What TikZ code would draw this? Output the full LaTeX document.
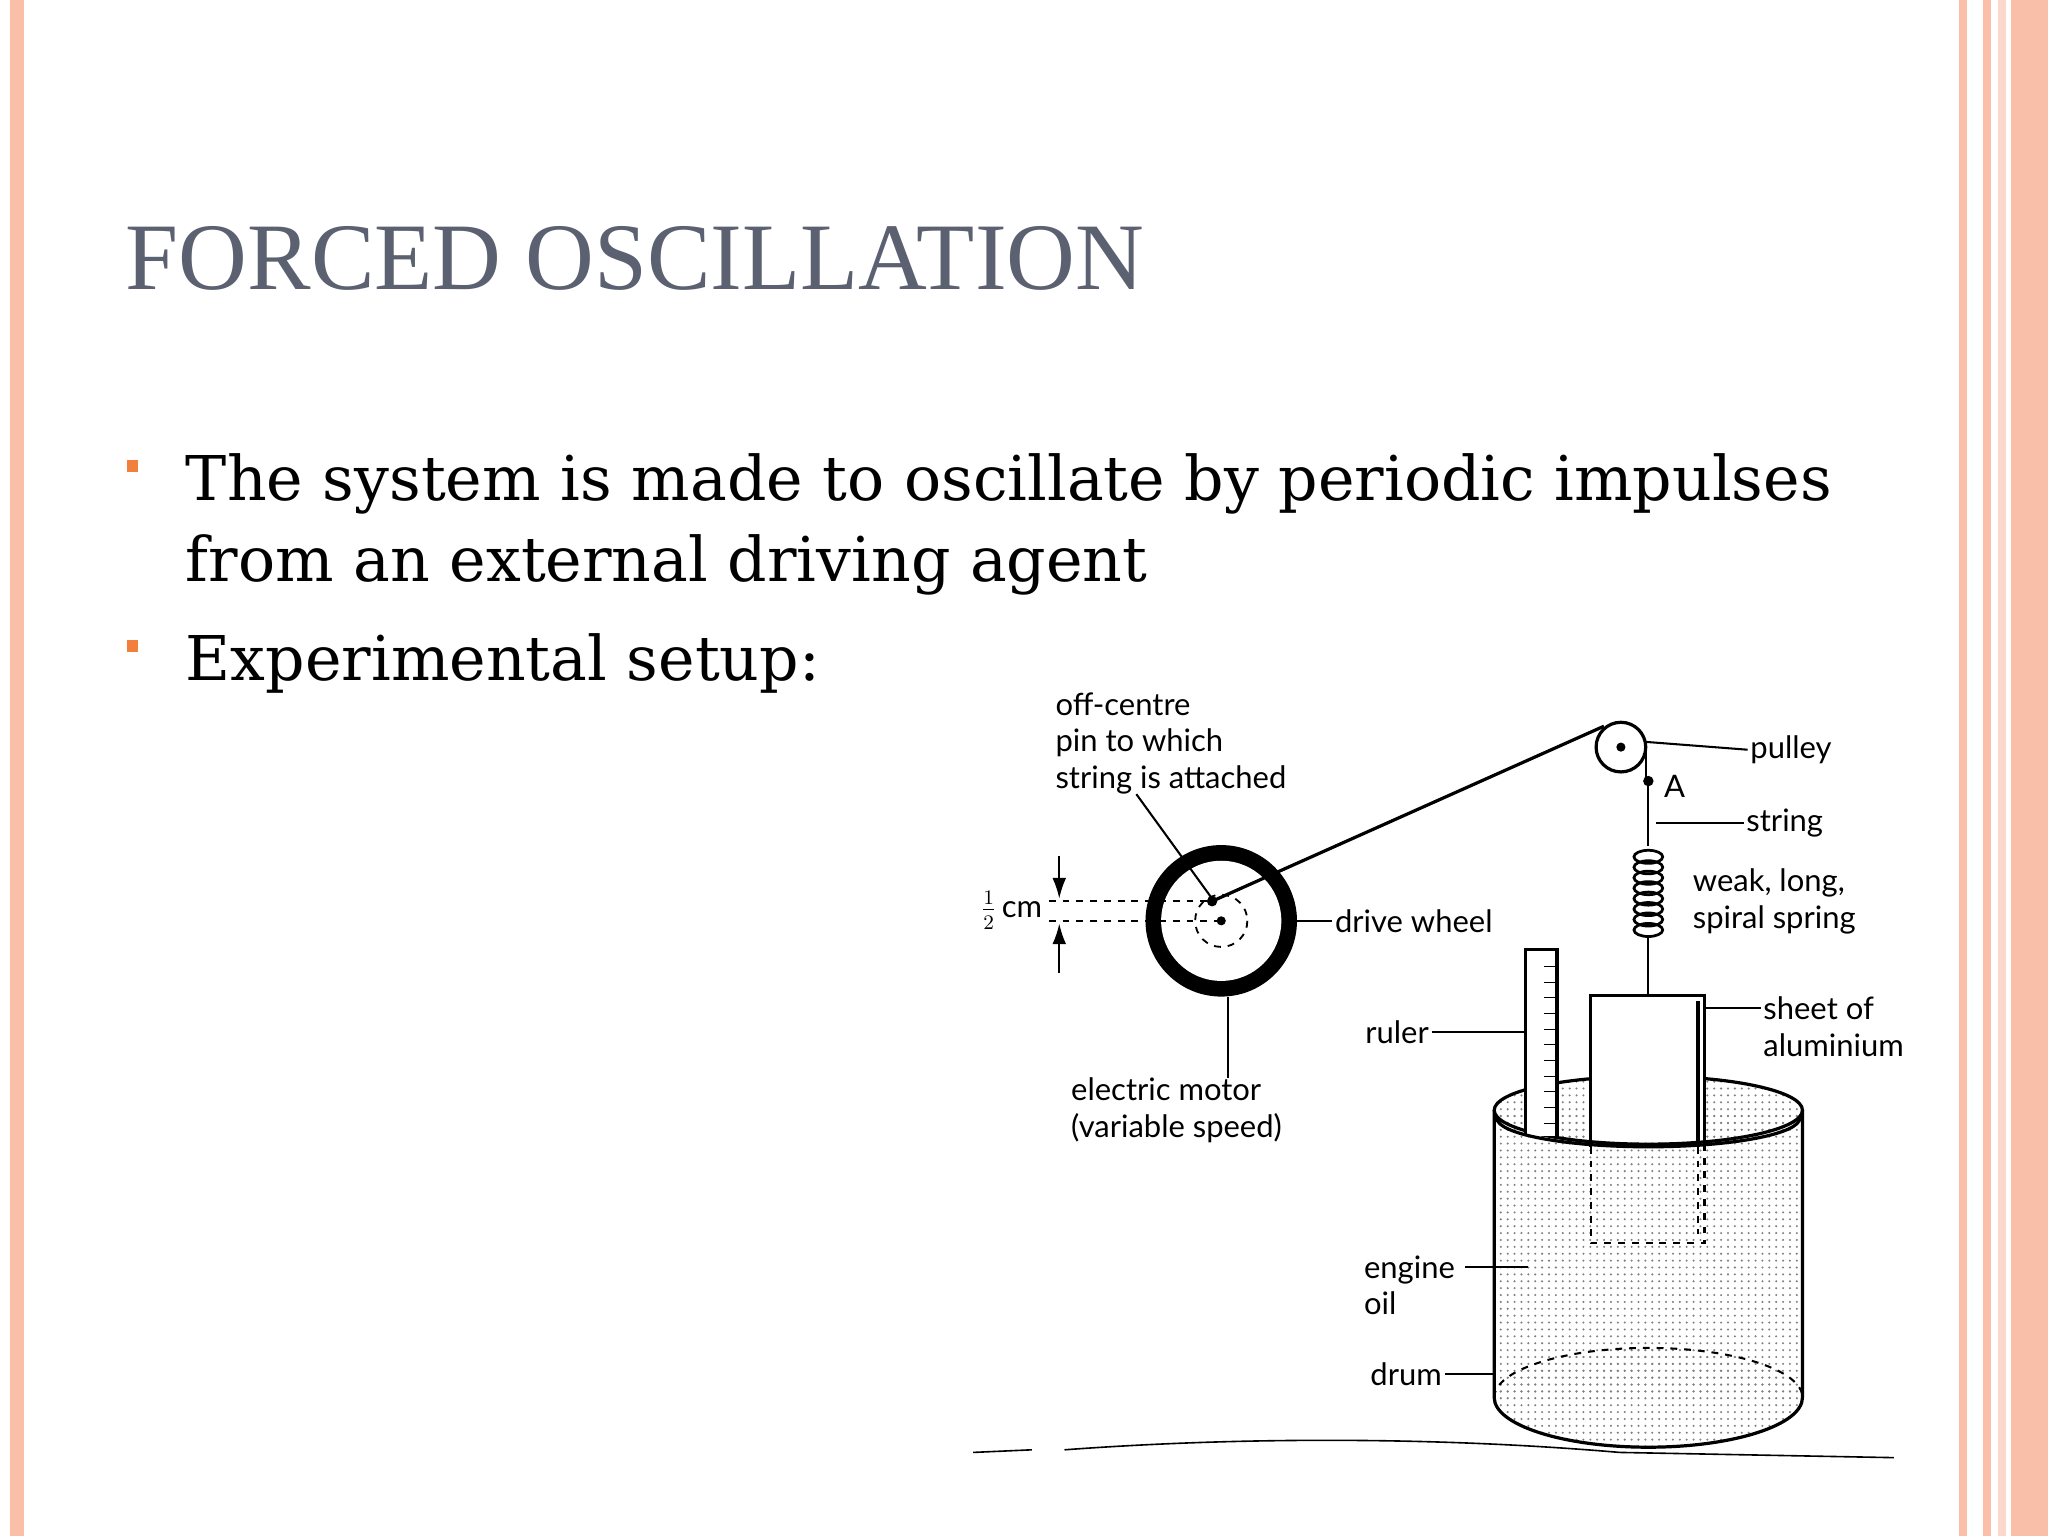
\documentclass[tikz,border=0pt]{standalone}
\usepackage{fontspec}
\setmainfont{Liberation Serif}
\newfontfamily\lab{Lato}
\newfontfamily\bodyf{DejaVu Serif}
\usetikzlibrary{patterns,arrows.meta}
\definecolor{salmon}{HTML}{F9BFA8}
\definecolor{titlegray}{HTML}{5B6170}
\definecolor{bulor}{HTML}{F0803C}
\tikzset{x=0.02cm,y=-0.02cm,
 lbl/.style={font=\lab\fontsize{13.5}{16}\selectfont,align=left,inner sep=1pt},
 lead/.style={line width=0.9pt},
 thick1/.style={line width=1.4pt},
 bodytext/.style={anchor=base west,font=\bodyf\fontsize{26.9}{30}\selectfont,inner sep=0}}
\begin{document}
\begin{tikzpicture}
\fill[white] (0,0) rectangle (1568,1176);
\useasboundingbox (0,0) rectangle (1568,1176);
\fill[salmon] (8,0) rectangle (18,1176);
\fill[salmon] (1500,0) rectangle (1506,1176);
\fill[salmon] (1518,0) rectangle (1524,1176);
\fill[salmon] (1540,0) rectangle (1568,1176);
\fill[salmon!60] (1530,0) rectangle (1536,1176);
% title
\node[anchor=base west,text=titlegray,font=\fontsize{41.5}{50}\selectfont,inner sep=0] (title) at (96,222) {FORCED OSCILLATION};
% bullets
\fill[bulor] (97,352) rectangle (106,361);
\fill[bulor] (97,490) rectangle (106,499);
\node[bodytext] (b1) at (142,383) {The system is made to oscillate by periodic impulses};
\node[bodytext] (b1b) at (142,445) {from an external driving agent};
\node[bodytext] (b2) at (142,521) {Experimental setup:};
% drum oil
\fill[pattern=dots,pattern color=gray] (1144,850) rectangle (1380,1070);
\fill[pattern=dots,pattern color=gray] (1262,850) ellipse (118 and 26);
\fill[pattern=dots,pattern color=gray] (1262,1070) ellipse (118 and 38);
\draw[thick1] (1262,850) ellipse (118 and 26);
\draw[thick1] (1144,850) -- (1144,1070) arc (180:0:118 and 38) -- (1380,850);
\draw[dashed,line width=0.9pt] (1144,1070) arc (-180:0:118 and 38);
% ruler
\fill[white] (1168,727) rectangle (1192,870);
\draw[thick1] (1168,870) -- (1168,727) -- (1192,727) -- (1192,870);
\foreach \y in {740,752,...,860} \draw (1182,\y) -- (1192,\y);
% plate
\fill[white] (1218,762) rectangle (1305,872);
\draw[thick1] (1218,878) -- (1218,762) -- (1305,762) -- (1305,878);
\draw[thick1] (1300,766) -- (1300,878);
\draw[dashed,line width=0.9pt] (1218,878) -- (1218,952) -- (1305,952) -- (1305,878);
\draw[dashed,line width=0.9pt] (1300,878) -- (1300,945);
\draw[thick1] (1146,856) arc (180:0:116 and 22);
% spring and string
\draw[lead] (1260,575) -- (1260,598);
\fill (1262,598) circle (4);
\draw[lead] (1262,598) -- (1262,648);
\foreach \i in {0,...,7} \draw[line width=1.2pt] (1262,656+\i*8) ellipse (11 and 5);
\draw[lead] (1262,718) -- (1262,762);
% pulley
\fill[white] (1241,572) circle (19);
\draw[thick1] (1241,572) circle (19);
\fill (1241,572) circle (3.5);
% drive wheel
\fill (935,705) circle (58);
\fill[white] (935,705) circle (46);
\draw[line width=0.8pt,dashed] (935,705) circle (20);
\fill (935,705) circle (3.5);
\fill (928,690) circle (4);
\draw[thick1] (928,690) -- (1228,556);
% dashed levels
\draw[dashed,lead] (803,690) -- (928,690);
\draw[dashed,lead] (803,705) -- (935,705);
\draw[-{Latex[length=9pt,width=6pt]},lead] (811,655) -- (811,688);
\draw[-{Latex[length=9pt,width=6pt]},lead] (811,745) -- (811,707);
\node[lbl,anchor=east] (half) at (800,697) {$\frac12$\,cm};
% labels
\node[lbl,anchor=north west] (offc) at (806,528) {off-centre\\pin to which\\string is attached};
\draw[lead] (870,608) -- (928,688);
\node[lbl,anchor=west] (dw) at (1020,705) {drive wheel};
\draw[lead] (993,705) -- (dw.west);
\node[lbl,anchor=north west] (em) at (818,823) {electric motor\\(variable speed)};
\draw[lead] (940,763) -- (940,825);
\node[lbl,anchor=west] (pul) at (1338,574) {pulley};
\draw[lead] (1260,568) -- (pul.west);
\node[lbl,anchor=west] (A) at (1272,602) {A};
\node[lbl,anchor=west] (str) at (1335,630) {string};
\draw[lead] (1268,630) -- (str.west);
\node[lbl,anchor=west] (wk) at (1294,690) {weak, long,\\spiral spring};
\node[lbl,anchor=west] (sh) at (1348,786) {sheet of\\aluminium};
\draw[lead] (1305,772) -- (1348,772);
\node[lbl,anchor=east] (rul) at (1096,790) {ruler};
\draw[lead] (rul.east) -- (1168,790);
\node[lbl,anchor=east] (oil) at (1116,984) {engine\\oil};
\draw[lead] (1122,970) -- (1170,970);
\node[lbl,anchor=east] (drum) at (1106,1052) {drum};
\draw[lead] (drum.east) -- (1144,1052);
% ground
\draw[line width=0.7pt] (745,1112) -- (790,1110) (815,1110) .. controls (950,1100) and (1100,1100) .. (1240,1112) -- (1450,1116);
\end{tikzpicture}
\end{document}
